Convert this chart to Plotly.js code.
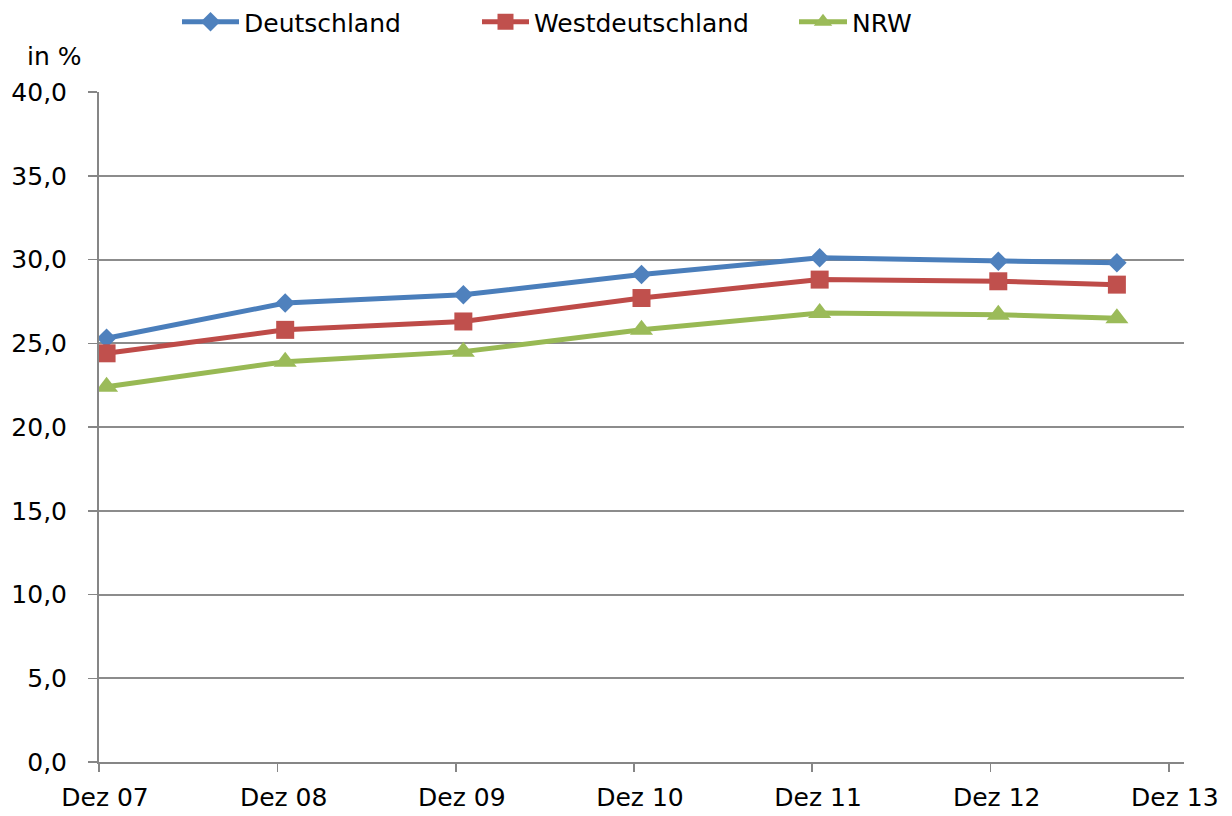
<!DOCTYPE html>
<html>
<head>
<meta charset="utf-8">
<script src="https://cdn.plot.ly/plotly-3.0.1.min.js"></script>
<style>html,body{margin:0;padding:0;background:#fff;}#chart{width:1232px;height:816px;}</style>
</head>
<body>
<div id="chart"></div>
<script>
// Observation months (Dezember jeweils, letzter Wert August 2013)
var months = ['2007-12', '2008-12', '2009-12', '2010-12', '2011-12', '2012-12', '2013-08'];
var deutschland = [25.3, 27.4, 27.9, 29.1, 30.1, 29.9, 29.8];
var westdeutschland = [24.4, 25.8, 26.3, 27.7, 28.8, 28.7, 28.5];
var nrw = [22.4, 23.9, 24.5, 25.8, 26.8, 26.7, 26.5];
var seriesNames = ['Deutschland', 'Westdeutschland', 'NRW'];
var tickDates = ['2007-12-01', '2008-12-01', '2009-12-01', '2010-12-01', '2011-12-01', '2012-12-01', '2013-12-01'];
var tickLabels = ['Dez 07', 'Dez 08', 'Dez 09', 'Dez 10', 'Dez 11', 'Dez 12', 'Dez 13'];
var yTicks = [0, 5, 10, 15, 20, 25, 30, 35, 40];

var FONT = 'DejaVu Sans, Verdana, sans-serif';
var colors = ['#4A7EBB', '#BE4B48', '#98B954'];
var markerColors = ['#4F81BD', '#C0504D', '#9BBB59'];
var symbols = ['diamond', 'square', 'triangle-up'];
var sizes = [15, 18, 20];
var values = [deutschland, westdeutschland, nrw];
var legendIds = ['legend', 'legend2', 'legend3'];

var traces = values.map(function (v, i) {
  return {
    type: 'scatter',
    mode: 'lines+markers',
    name: seriesNames[i],
    x: months,
    y: v,
    xperiod: 'M1',
    xperiodalignment: 'middle',
    line: {color: colors[i], width: 5},
    marker: {symbol: symbols[i], size: sizes[i], color: markerColors[i], line: {width: 0}},
    legend: legendIds[i],
    hoverinfo: 'x+y'
  };
});

function legendAt(xpx, w) {
  return {
    orientation: 'h',
    xref: 'container', yref: 'container',
    x: xpx / 1232, xanchor: 'left',
    y: 1 - 22 / 816, yanchor: 'middle',
    font: {family: FONT, size: 25, color: '#000'},
    itemwidth: w,
    bgcolor: 'rgba(0,0,0,0)',
    borderwidth: 0,
    tracegroupgap: 0
  };
}

var layout = {
  width: 1232,
  height: 816,
  paper_bgcolor: '#fff',
  plot_bgcolor: '#fff',
  separators: ',.',
  font: {family: FONT, size: 25, color: '#000'},
  margin: {l: 99, r: 48, t: 92, b: 54, pad: 0},
  showlegend: true,
  legend: legendAt(177, 57),
  legend2: legendAt(477, 47),
  legend3: legendAt(794, 48),
  xaxis: {
    type: 'date',
    range: ['2007-12-01', '2014-01-01'],
    tickmode: 'array',
    tickvals: tickDates,
    ticktext: tickLabels,
    ticks: 'outside',
    ticklen: 8,
    tickwidth: 1.5,
    tickcolor: '#868686',
    ticklabelshift: 6,
    ticklabelstandoff: 4,
    showline: true,
    linecolor: '#868686',
    linewidth: 2,
    showgrid: false,
    zeroline: false,
    tickfont: {family: FONT, size: 25, color: '#000'}
  },
  yaxis: {
    range: [0, 40],
    tickmode: 'array',
    tickvals: yTicks,
    tickformat: '.1f',
    ticks: 'outside',
    ticklen: 9,
    tickwidth: 1.5,
    tickcolor: '#868686',
    ticklabelstandoff: 16,
    showline: true,
    linecolor: '#868686',
    linewidth: 2,
    showgrid: true,
    gridcolor: '#8C8C8C',
    gridwidth: 2,
    zeroline: false,
    tickfont: {family: FONT, size: 25, color: '#000'}
  },
  annotations: [{
    text: 'in %',
    xref: 'paper', yref: 'paper',
    x: (54 - 99) / 1085, y: (762 - 57) / 670,
    xanchor: 'center', yanchor: 'middle',
    showarrow: false,
    font: {family: FONT, size: 25, color: '#000'}
  }]
};

Plotly.newPlot('chart', traces, layout, {displayModeBar: false, staticPlot: true});
</script>
</body>
</html>
